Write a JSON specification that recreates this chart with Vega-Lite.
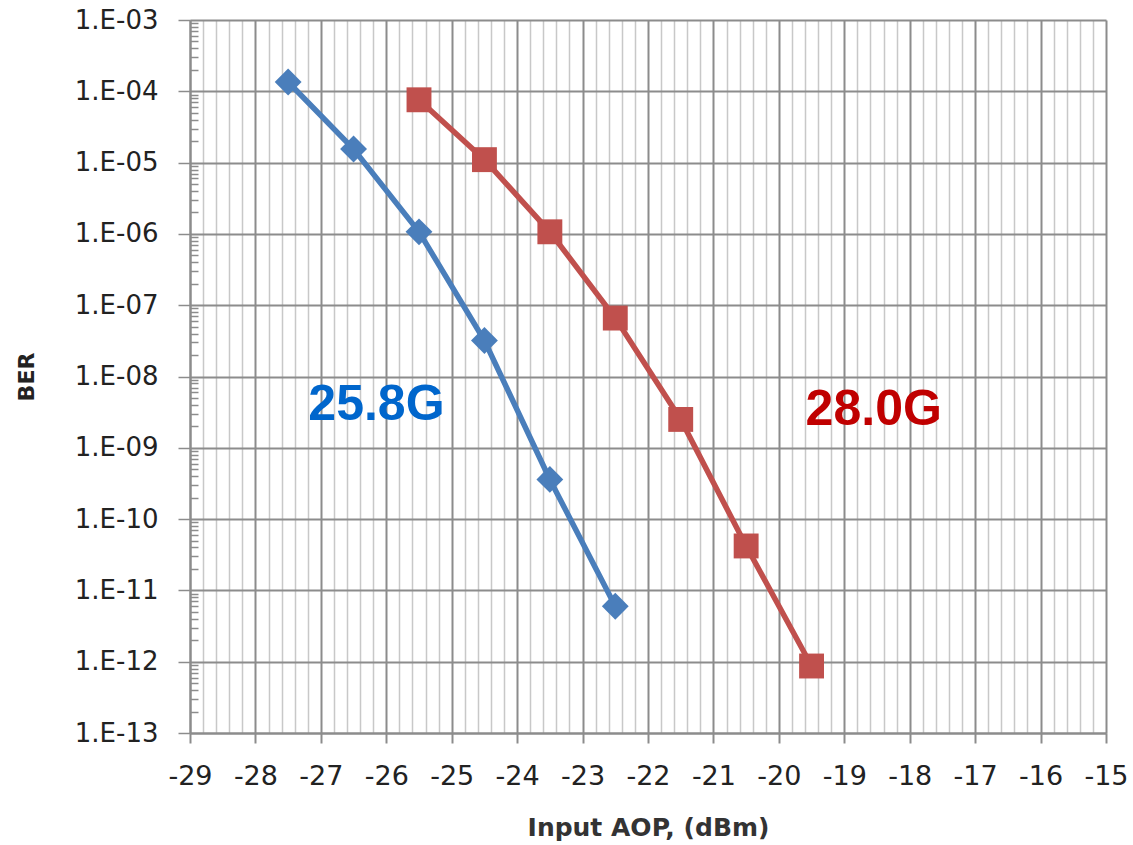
{
  "$schema": "https://vega.github.io/schema/vega-lite/v6.json",
  "width": 916,
  "height": 713,
  "autosize": {"type": "none"},
  "padding": {"left": 190, "top": 20, "right": 27, "bottom": 112},
  "background": "white",
  "config": {
    "font": "DejaVu Sans",
    "view": {"stroke": null}
  },
  "datasets": {
    "series": [
      {"aop": -27.5, "ber": 1.35e-4, "rate": "25.8G"},
      {"aop": -26.5, "ber": 1.55e-5, "rate": "25.8G"},
      {"aop": -25.5, "ber": 1.07e-6, "rate": "25.8G"},
      {"aop": -24.5, "ber": 3.2e-8, "rate": "25.8G"},
      {"aop": -23.5, "ber": 3.6e-10, "rate": "25.8G"},
      {"aop": -22.5, "ber": 6e-12, "rate": "25.8G"},
      {"aop": -25.5, "ber": 7.6e-5, "rate": "28.0G"},
      {"aop": -24.5, "ber": 1.1e-5, "rate": "28.0G"},
      {"aop": -23.5, "ber": 1.07e-6, "rate": "28.0G"},
      {"aop": -22.5, "ber": 6.6e-8, "rate": "28.0G"},
      {"aop": -21.5, "ber": 2.5e-9, "rate": "28.0G"},
      {"aop": -20.5, "ber": 4.2e-11, "rate": "28.0G"},
      {"aop": -19.5, "ber": 8.7e-13, "rate": "28.0G"}
    ],
    "labels": [
      {"aop": -26.15, "ber": 4e-9, "rate": "25.8G"},
      {"aop": -18.55, "ber": 3.4e-9, "rate": "28.0G"}
    ]
  },
  "encoding": {
    "x": {
      "field": "aop", "type": "quantitative",
      "scale": {"domain": [-29, -15], "nice": false, "zero": false},
      "axis": {
        "title": "Input AOP, (dBm)",
        "titleFont": "DejaVu Sans", "titleFontSize": 25, "titleFontWeight": "bold", "titleColor": "#333", "titlePadding": 26,
        "values": [-29,-28.8,-28.6,-28.4,-28.2,-28,-27.8,-27.6,-27.4,-27.2,-27,-26.8,-26.6,-26.4,-26.2,-26,-25.8,-25.6,-25.4,-25.2,-25,-24.8,-24.6,-24.4,-24.2,-24,-23.8,-23.6,-23.4,-23.2,-23,-22.8,-22.6,-22.4,-22.2,-22,-21.8,-21.6,-21.4,-21.2,-21,-20.8,-20.6,-20.4,-20.2,-20,-19.8,-19.6,-19.4,-19.2,-19,-18.8,-18.6,-18.4,-18.2,-18,-17.8,-17.6,-17.4,-17.2,-17,-16.8,-16.6,-16.4,-16.2,-16,-15.8,-15.6,-15.4,-15.2,-15],
        "labelExpr": "abs(datum.value - round(datum.value)) < 0.01 ? ('' + round(datum.value)) : ''",
        "labelFont": "DejaVu Sans", "labelFontSize": 27, "labelColor": "#222", "labelPadding": 20, "labelFlush": false, "labelOverlap": false,
        "grid": true,
        "gridColor": {"condition": {"test": "abs(datum.value - round(datum.value)) < 0.01", "value": "#8c8c8c"}, "value": "#c8c8c8"},
        "gridWidth": {"condition": {"test": "abs(datum.value - round(datum.value)) < 0.01", "value": 2}, "value": 1.5},
        "ticks": true,
        "tickColor": "#8c8c8c", "tickWidth": 2,
        "tickSize": {"condition": {"test": "abs(datum.value - round(datum.value)) < 0.01", "value": 10}, "value": 0},
        "domainColor": "#8c8c8c", "domainWidth": 2
      }
    },
    "y": {
      "field": "ber", "type": "quantitative",
      "scale": {"type": "log", "domain": [1e-13, 1e-3], "nice": false},
      "axis": {
        "title": "BER",
        "titleFont": "DejaVu Sans", "titleFontSize": 22, "titleFontWeight": "bold", "titleColor": "#222", "titlePadding": 36,
        "values": [1e-13,2e-13,3e-13,4e-13,5e-13,6e-13,7e-13,8e-13,9e-13,1e-12,2e-12,3e-12,4e-12,5e-12,6e-12,7e-12,8e-12,9e-12,1e-11,2e-11,3e-11,4e-11,5e-11,6e-11,7e-11,8e-11,9e-11,1e-10,2e-10,3e-10,4e-10,5e-10,6e-10,7e-10,8e-10,9e-10,1e-9,2e-9,3e-9,4e-9,5e-9,6e-9,7e-9,8e-9,9e-9,1e-8,2e-8,3e-8,4e-8,5e-8,6e-8,7e-8,8e-8,9e-8,1e-7,2e-7,3e-7,4e-7,5e-7,6e-7,7e-7,8e-7,9e-7,1e-6,2e-6,3e-6,4e-6,5e-6,6e-6,7e-6,8e-6,9e-6,1e-5,2e-5,3e-5,4e-5,5e-5,6e-5,7e-5,8e-5,9e-5,1e-4,2e-4,3e-4,4e-4,5e-4,6e-4,7e-4,8e-4,9e-4,1e-3],
        "labelExpr": "abs(log(datum.value)/LN10 - round(log(datum.value)/LN10)) < 0.01 ? ('1.E-' + (round(-log(datum.value)/LN10) < 10 ? '0' : '') + round(-log(datum.value)/LN10)) : ''",
        "labelFont": "DejaVu Sans", "labelFontSize": 26, "labelColor": "#222", "labelPadding": 20, "labelOverlap": false,
        "grid": true,
        "gridColor": {"condition": {"test": "abs(log(datum.value)/LN10 - round(log(datum.value)/LN10)) < 0.01", "value": "#8c8c8c"}, "value": "transparent"},
        "gridWidth": 2,
        "ticks": true,
        "tickColor": "#8c8c8c", "tickWidth": 1.5,
        "tickSize": {"condition": {"test": "abs(log(datum.value)/LN10 - round(log(datum.value)/LN10)) < 0.01", "value": 12}, "value": -8},
        "domainColor": "#8c8c8c", "domainWidth": 2
      }
    }
  },
  "layer": [
    {
      "data": {"name": "series"},
      "mark": {"type": "line", "strokeWidth": 5.5},
      "encoding": {
        "color": {
          "field": "rate", "type": "nominal",
          "scale": {"domain": ["25.8G", "28.0G"], "range": ["#4a7ebb", "#c0504d"]},
          "legend": null
        }
      }
    },
    {
      "data": {"name": "series"},
      "mark": {"type": "point", "filled": true, "opacity": 1},
      "encoding": {
        "color": {"field": "rate", "type": "nominal", "legend": null},
        "shape": {"field": "rate", "type": "nominal", "scale": {"domain": ["25.8G", "28.0G"], "range": ["diamond", "square"]}, "legend": null},
        "size": {"field": "rate", "type": "nominal", "scale": {"domain": ["25.8G", "28.0G"], "range": [720, 620]}, "legend": null}
      }
    },
    {
      "data": {"name": "labels"},
      "transform": [{"filter": "datum.rate == '25.8G'"}],
      "mark": {"type": "text", "fontSize": 50, "fontWeight": "bold", "font": "Liberation Sans", "align": "center", "baseline": "middle", "color": "#0066cc"},
      "encoding": {
        "text": {"field": "rate"}
      }
    },
    {
      "data": {"name": "labels"},
      "transform": [{"filter": "datum.rate == '28.0G'"}],
      "mark": {"type": "text", "fontSize": 50, "fontWeight": "bold", "font": "Liberation Sans", "align": "center", "baseline": "middle", "color": "#c00000"},
      "encoding": {
        "text": {"field": "rate"}
      }
    }
  ]
}
